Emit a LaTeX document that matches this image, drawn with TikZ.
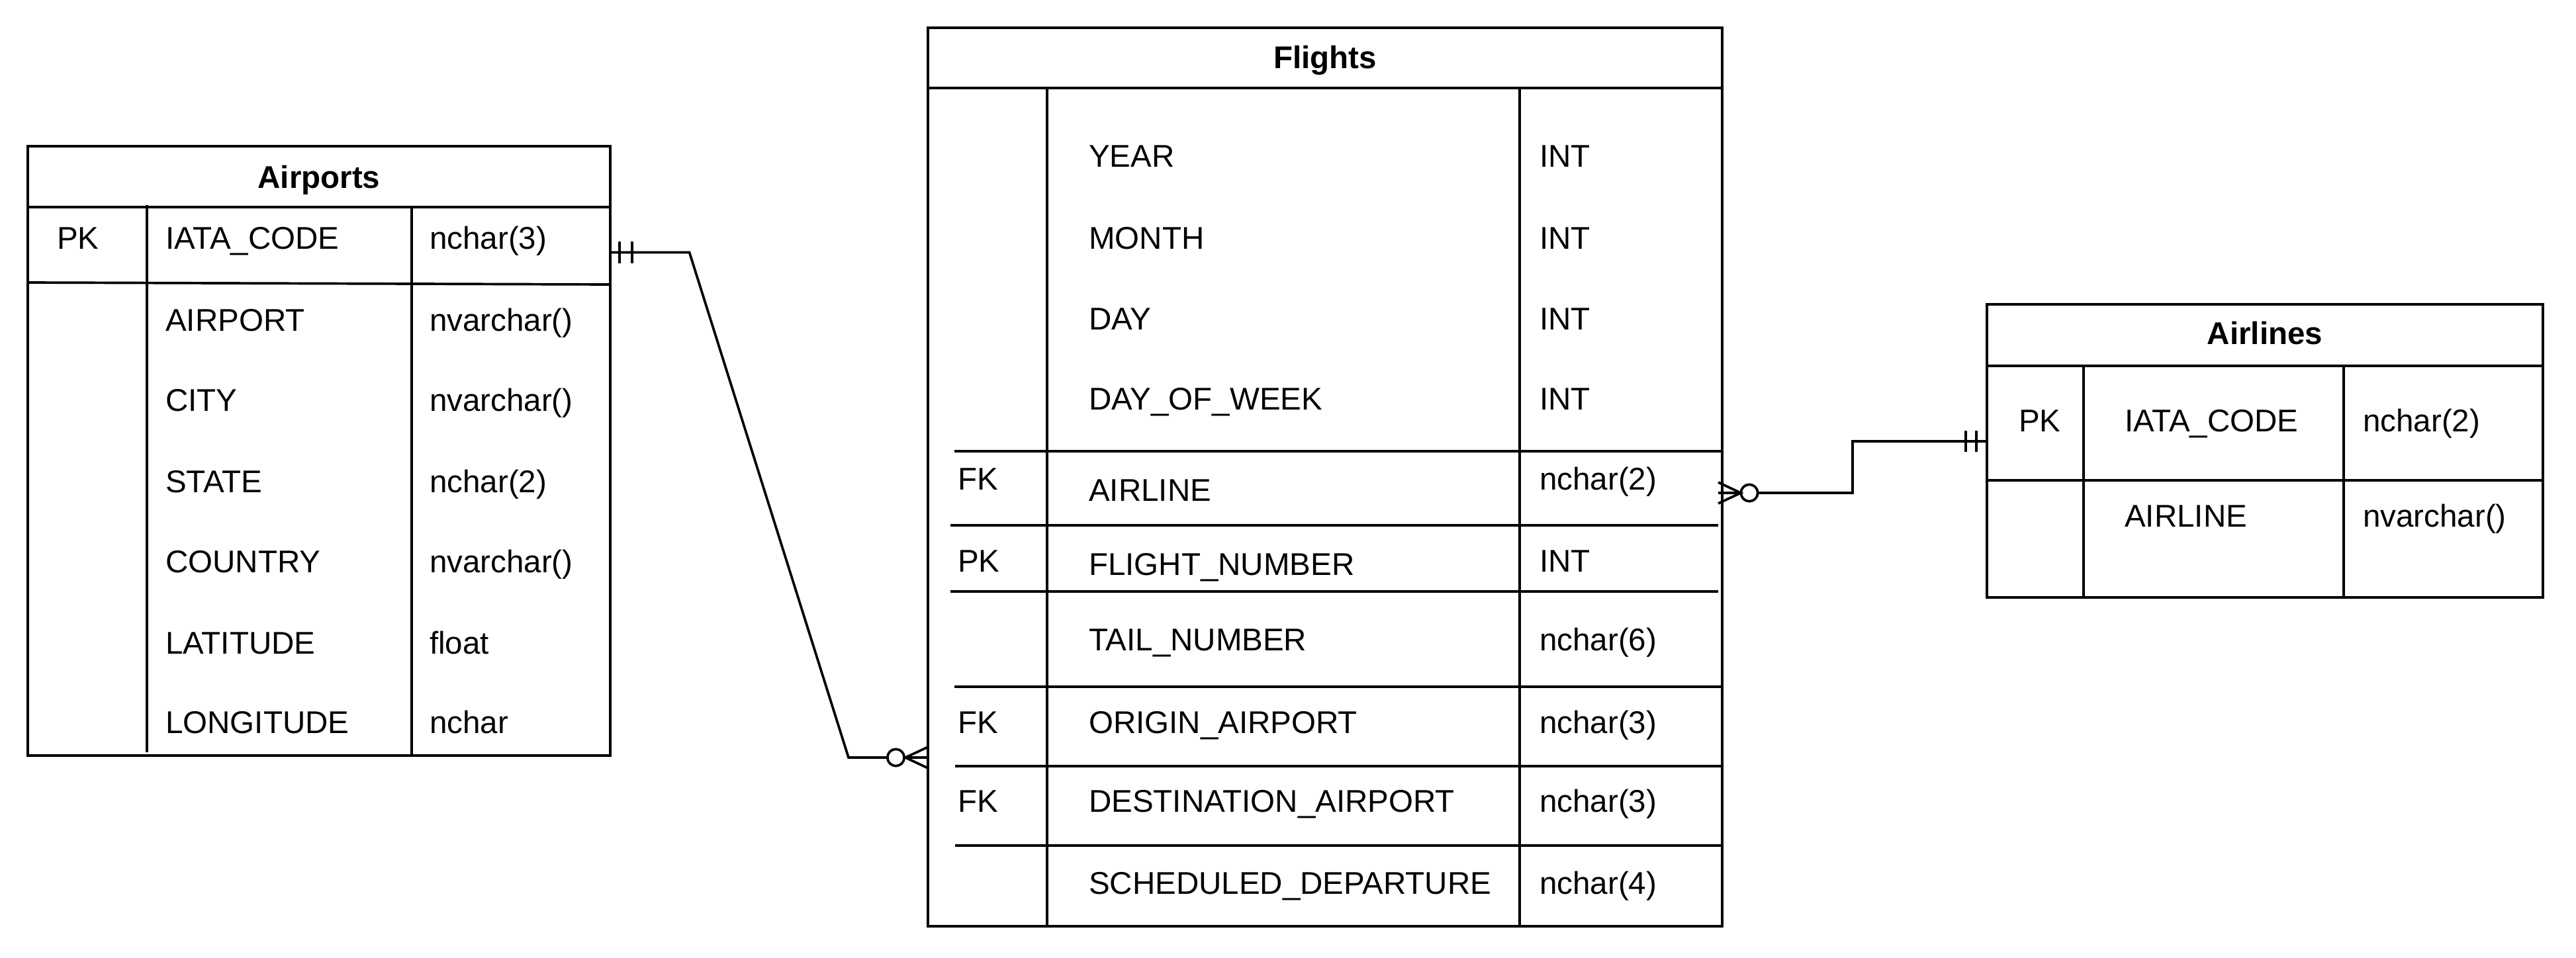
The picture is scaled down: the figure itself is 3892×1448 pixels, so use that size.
\documentclass[tikz,border=0pt]{standalone}
\usepackage{fontspec}
\setmainfont{Liberation Sans}
\begin{document}
\begin{tikzpicture}[x=1pt,y=-1pt,
  frame/.style={draw, line width=3.7pt, inner sep=0pt, outer sep=0pt, anchor=north west},
  ln/.style={line width=3.7pt},
  conn/.style={line width=3.7pt, line join=miter},
  txt/.style={inner sep=0pt, anchor=base west, font=\fontsize{47.5}{56}\selectfont},
  hdr/.style={inner sep=0pt, anchor=base, font=\fontsize{47.5}{56}\selectfont\bfseries},
  crow/.style={line width=3.7pt, fill=white}
]
\useasboundingbox (0,0) rectangle (3892,1448);

% ---------------- Airports ----------------
\node[frame, minimum width=880pt, minimum height=921pt] (airports) at (42,221) {};
\draw[ln] (42,313) -- (922,313);
\draw[ln] (42,427) -- (922,430);
\draw[ln] (222,310) -- (222,1137);
\draw[ln] (622,313) -- (622,1142);
\node[hdr] (apT) at (482,284) {Airports};
\node[txt] (apPK) at (86,376) {PK};
\node[txt] (apN1) at (250,376) {IATA\_CODE};
\node[txt] (apT1) at (649,376) {nchar(3)};
\node[txt] (apN2) at (250,500) {AIRPORT};
\node[txt] (apT2) at (649,500) {nvarchar()};
\node[txt] (apN3) at (250,621) {CITY};
\node[txt] (apT3) at (649,621) {nvarchar()};
\node[txt] (apN4) at (250,744) {STATE};
\node[txt] (apT4) at (649,744) {nchar(2)};
\node[txt] (apN5) at (250,865) {COUNTRY};
\node[txt] (apT5) at (649,865) {nvarchar()};
\node[txt] (apN6) at (250,988) {LATITUDE};
\node[txt] (apT6) at (649,988) {float};
\node[txt] (apN7) at (250,1108) {LONGITUDE};
\node[txt] (apT7) at (649,1108) {nchar};

% ---------------- Flights ----------------
\node[frame, minimum width=1200pt, minimum height=1358pt] (flights) at (1402,42) {};
\draw[ln] (1402,133) -- (2602,133);
\draw[ln] (1582,133) -- (1582,1400);
\draw[ln] (2296,133) -- (2296,1400);
\draw[ln] (1442,682) -- (2602,682);
\draw[ln] (1436,794) -- (2596,794);
\draw[ln] (1436,894) -- (2596,894);
\draw[ln] (1442,1038) -- (2602,1038);
\draw[ln] (1443,1158) -- (2602,1158);
\draw[ln] (1443,1278) -- (2602,1278);
\node[hdr] (flT) at (2002,103) {Flights};
\node[txt] (flN1) at (1645,252) {YEAR};
\node[txt] (flT1) at (2326,252) {INT};
\node[txt] (flN2) at (1645,376) {MONTH};
\node[txt] (flT2) at (2326,376) {INT};
\node[txt] (flN3) at (1645,498) {DAY};
\node[txt] (flT3) at (2326,498) {INT};
\node[txt] (flN4) at (1645,619) {DAY\_OF\_WEEK};
\node[txt] (flT4) at (2326,619) {INT};
\node[txt] (flK5) at (1447,740) {FK};
\node[txt] (flN5) at (1645,757) {AIRLINE};
\node[txt] (flT5) at (2326,740) {nchar(2)};
\node[txt] (flK6) at (1447,864) {PK};
\node[txt] (flN6) at (1645,869) {FLIGHT\_NUMBER};
\node[txt] (flT6) at (2326,864) {INT};
\node[txt] (flN7) at (1645,983) {TAIL\_NUMBER};
\node[txt] (flT7) at (2326,983) {nchar(6)};
\node[txt] (flK8) at (1447,1108) {FK};
\node[txt] (flN8) at (1645,1108) {ORIGIN\_AIRPORT};
\node[txt] (flT8) at (2326,1108) {nchar(3)};
\node[txt] (flK9) at (1447,1227) {FK};
\node[txt] (flN9) at (1645,1227) {DESTINATION\_AIRPORT};
\node[txt] (flT9) at (2326,1227) {nchar(3)};
\node[txt] (flN10) at (1645,1351) {SCHEDULED\_DEPARTURE};
\node[txt] (flT10) at (2326,1351) {nchar(4)};

% ---------------- Airlines ----------------
\node[frame, minimum width=840pt, minimum height=443pt] (airlines) at (3002,460) {};
\draw[ln] (3002,553) -- (3842,553);
\draw[ln] (3002,726) -- (3842,726);
\draw[ln] (3148,553) -- (3148,903);
\draw[ln] (3541,553) -- (3541,903);
\node[hdr] (alT) at (3422,520) {Airlines};
\node[txt] (alPK) at (3050,652) {PK};
\node[txt] (alN1) at (3210,652) {IATA\_CODE};
\node[txt] (alT1) at (3570,652) {nchar(2)};
\node[txt] (alN2) at (3210,796) {AIRLINE};
\node[txt] (alT2) at (3570,796) {nvarchar()};

% ---------------- Connectors ----------------
\coordinate (c1s) at (airports.east |- 0,381.5);
\coordinate (c1e) at (flights.west |- 0,1145);
\draw[conn] (c1s) -- (1041.6,381.5) -- (1282,1145) -- (c1e);
\draw[ln] (936,365) -- (936,398);
\draw[ln] (955,365) -- (955,398);
\draw[crow] (1353.5,1145) circle[radius=12.7pt];
\draw[ln] (1402,1129) -- (1368,1145) -- (1402,1161);

\coordinate (c2s) at (flights.east |- 0,745);
\coordinate (c2e) at (airlines.west |- 0,667);
\draw[conn] (c2s) -- (2798.7,745) -- (2798.7,667) -- (c2e);
\draw[crow] (2643,745) circle[radius=12.7pt];
\draw[ln] (2596,729) -- (2630,745) -- (2596,761);
\draw[ln] (2596,745) -- (2630,745);
\draw[ln] (2970,651) -- (2970,683);
\draw[ln] (2986,651) -- (2986,683);
\end{tikzpicture}
\end{document}
